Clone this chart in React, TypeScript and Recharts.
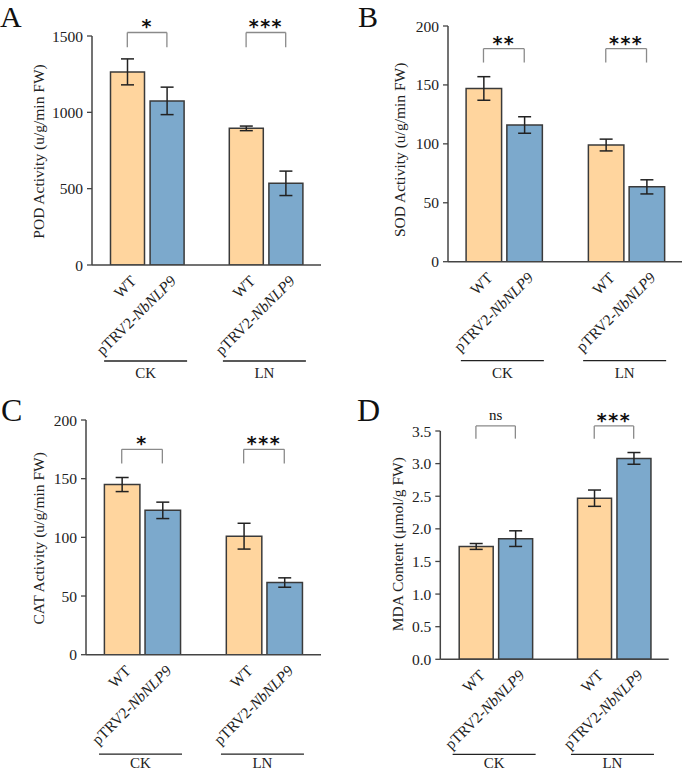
import React from 'react';
import {
  BarChart,
  Bar,
  Cell,
  XAxis,
  YAxis,
  ErrorBar,
  ReferenceLine,
} from 'recharts';

// groups and genotypes
const treatments = ['CK', 'LN'];
const genotypes = ['WT', 'pTRV2-NbNLP9'];

// values in order CK-WT, CK-pTRV2, LN-WT, LN-pTRV2
const podMean = [1265, 1075, 895, 535];
const podSd = [85, 90, 15, 80];
const podSig = ['*', '***'];

const sodMean = [147, 116, 99, 63.5];
const sodSd = [10, 7, 5, 6];
const sodSig = ['**', '***'];

const catMean = [145, 123, 101, 61.5];
const catSd = [6, 7, 11, 4];
const catSig = ['*', '***'];

const mdaMean = [1.73, 1.85, 2.47, 3.08];
const mdaSd = [0.045, 0.12, 0.125, 0.09];
const mdaSig = ['ns', '***'];

const podTicks = [0, 500, 1000, 1500];
const sodTicks = [0, 50, 100, 150, 200];
const catTicks = [0, 50, 100, 150, 200];
const mdaTicks = [0, 0.5, 1, 1.5, 2, 2.5, 3, 3.5];

const FONT = '"Liberation Serif", "Times New Roman", serif';
const WT_COLOR = '#FFD59E';
const KD_COLOR = '#7CA9CC';
const EDGE = '#3a3a3a';
const AXIS = '#444';

type Row = {
  key: string;
  treatment?: string;
  genotype?: string;
  gi?: number;
  value: number | null;
  err?: number;
};

// builds the table with a spacer row between the two groups
const buildRows = (mean: number[], sd: number[]): Row[] => {
  const rows: Row[] = [];
  treatments.forEach((t, ti) => {
    if (ti > 0) rows.push({ key: 'gap' + ti, value: null });
    genotypes.forEach((g, gi) => {
      rows.push({
        key: `${t}|${g}`,
        treatment: t,
        genotype: g,
        gi,
        value: mean[ti * 2 + gi],
        err: sd[ti * 2 + gi],
      });
    });
  });
  return rows;
};

const GenotypeTick = ({ x, y, payload, band, rows, lineDy, textDy }: any) => {
  const row = rows.find((r: Row) => r.key === payload.value);
  if (!row || !row.genotype) return null;
  const mid = x + band / 2;
  return (
    <g>
      <text
        transform={`translate(${x + 10},${y + 17}) rotate(-45)`}
        textAnchor="end"
        fontSize={15.5}
        fontFamily={FONT}
        fill="#222"
      >
        {row.genotype === 'WT' ? (
          'WT'
        ) : (
          <>
            <tspan>pTRV2-</tspan>
            <tspan fontStyle="italic">NbNLP9</tspan>
          </>
        )}
      </text>
      {row.gi === 0 && (
        <g>
          <line x1={mid - 43} x2={mid + 40} y1={y + lineDy} y2={y + lineDy} stroke="#222" strokeWidth={1.3} />
          <text x={mid - 1.5} y={y + textDy} textAnchor="middle" fontSize={15} fontFamily={FONT} fill="#222">
            {row.treatment}
          </text>
        </g>
      )}
    </g>
  );
};

const SigLabel = ({ viewBox, text }: any) => {
  if (!viewBox) return null;
  const cx = viewBox.x + viewBox.width / 2;
  const isNs = text === 'ns';
  return (
    <text
      x={cx}
      y={viewBox.y + (isNs ? -6 : 1)}
      textAnchor="middle"
      fontSize={isNs ? 15 : 19}
      fontWeight={isNs ? 'normal' : 'bold'}
      letterSpacing={isNs ? 0 : 1.5}
      fontFamily={isNs ? FONT : '"DejaVu Sans", sans-serif'}
      fill="#111"
    >
      {text}
    </text>
  );
};

interface PanelProps {
  left: number;
  top: number;
  margin: { top: number; right: number; left: number; bottom: number };
  yWidth: number;
  xHeight: number;
  pad: [number, number];
  mean: number[];
  sd: number[];
  sig: string[];
  domain: [number, number];
  ticks: number[];
  yLabel: string;
  labelDx: number;
  labelDy: number;
  barSize: number;
  sigTop: number;
  sigLeg: number;
  lineDy: number;
  textDy: number;
  decimals?: number;
}

const Panel: React.FC<PanelProps> = (p) => {
  const rows = buildRows(p.mean, p.sd);
  const W = 342;
  const H = 386;
  const plotW = W - p.margin.left - p.yWidth - p.margin.right;
  const band = (plotW - p.pad[0] - p.pad[1]) / rows.length;

  const YLabel = ({ viewBox }: any) => {
    const cx = viewBox.x + viewBox.width + p.labelDx;
    const cy = viewBox.y + viewBox.height / 2 + p.labelDy;
    return (
      <text
        transform={`translate(${cx},${cy}) rotate(-90)`}
        textAnchor="middle"
        dominantBaseline="central"
        fontSize={15.5}
        fontFamily={FONT}
        fill="#222"
      >
        {p.yLabel}
      </text>
    );
  };

  return (
    <div style={{ position: 'absolute', left: p.left, top: p.top }}>
      <BarChart width={W} height={H} data={rows} margin={p.margin}>
        <XAxis
          dataKey="key"
          type="category"
          height={p.xHeight}
          padding={{ left: p.pad[0], right: p.pad[1] }}
          interval={0}
          tickLine={false}
          tickSize={0}
          tickMargin={0}
          axisLine={{ stroke: AXIS, strokeWidth: 1.5 }}
          tick={(props: any) => (
            <GenotypeTick {...props} band={band} rows={rows} lineDy={p.lineDy} textDy={p.textDy} />
          )}
        />
        <YAxis
          width={p.yWidth}
          domain={p.domain}
          ticks={p.ticks}
          interval={0}
          allowDataOverflow
          tickSize={5}
          tickMargin={4}
          tickLine={{ stroke: AXIS, strokeWidth: 1.3 }}
          axisLine={{ stroke: AXIS, strokeWidth: 1.5 }}
          tick={{ fill: '#222', fontSize: 15.5, fontFamily: FONT }}
          tickFormatter={(v: number) => (p.decimals ? v.toFixed(p.decimals) : String(v))}
          label={{ content: <YLabel /> }}
        />
        <Bar dataKey="value" barSize={p.barSize} stroke={EDGE} strokeWidth={1.5} isAnimationActive={false}>
          {rows.map((r) => (
            <Cell key={r.key} fill={r.gi === 0 ? WT_COLOR : KD_COLOR} />
          ))}
          <ErrorBar dataKey="err" width={6.5} stroke="#222" strokeWidth={1.5} direction="y" />
        </Bar>
        {treatments.map((t, ti) => {
          const a = `${t}|${genotypes[0]}`;
          const b = `${t}|${genotypes[1]}`;
          return (
            <React.Fragment key={t}>
              <ReferenceLine
                segment={[{ x: a, y: p.sigTop }, { x: b, y: p.sigTop }]}
                stroke="#8a8a8a"
                strokeWidth={1.3}
                ifOverflow="visible"
                label={(lp: any) => <SigLabel {...lp} text={p.sig[ti]} />}
              />
              <ReferenceLine
                segment={[{ x: a, y: p.sigTop }, { x: a, y: p.sigLeg }]}
                stroke="#8a8a8a"
                strokeWidth={1.3}
                ifOverflow="visible"
              />
              <ReferenceLine
                segment={[{ x: b, y: p.sigTop }, { x: b, y: p.sigLeg }]}
                stroke="#8a8a8a"
                strokeWidth={1.3}
                ifOverflow="visible"
              />
            </React.Fragment>
          );
        })}
      </BarChart>
    </div>
  );
};

const letters = [
  { t: 'A', x: 0, y: 27, s: 30 },
  { t: 'B', x: 358, y: 27, s: 30 },
  { t: 'C', x: 1, y: 421, s: 32 },
  { t: 'D', x: 357, y: 421, s: 32 },
];

export default function App() {
  return (
    <div style={{ position: 'absolute', left: 0, top: 0, width: 684, height: 772, background: '#fff' }}>
      <Panel
        left={0}
        top={0}
        margin={{ top: 36, right: 21, left: 0, bottom: 0 }}
        yWidth={92}
        xHeight={121}
        pad={[15.5, 15.5]}
        mean={podMean}
        sd={podSd}
        sig={podSig}
        domain={[0, 1500]}
        ticks={podTicks}
        yLabel="POD Activity (u/g/min FW)"
        labelDx={-54}
        labelDy={1}
        barSize={34}
        sigTop={1523}
        sigLeg={1427}
        lineDy={96}
        textDy={113}
      />
      <Panel
        left={342}
        top={0}
        margin={{ top: 26, right: 2, left: 0, bottom: 0 }}
        yWidth={106}
        xHeight={124.3}
        pad={[15.1, 15.1]}
        mean={sodMean}
        sd={sodSd}
        sig={sodSig}
        domain={[0, 200]}
        ticks={sodTicks}
        yLabel="SOD Activity (u/g/min FW)"
        labelDx={-49}
        labelDy={6}
        barSize={35.5}
        sigTop={180.8}
        sigLeg={169}
        lineDy={99}
        textDy={116}
      />
      <Panel
        left={0}
        top={386}
        margin={{ top: 34, right: 21, left: 0, bottom: 0 }}
        yWidth={86}
        xHeight={117.3}
        pad={[15.4, 16.4]}
        mean={catMean}
        sd={catSd}
        sig={catSig}
        domain={[0, 200]}
        ticks={catTicks}
        yLabel="CAT Activity (u/g/min FW)"
        labelDx={-48}
        labelDy={1}
        barSize={35.5}
        sigTop={175}
        sigLeg={163}
        lineDy={99.5}
        textDy={113.5}
      />
      <Panel
        left={342}
        top={386}
        margin={{ top: 45, right: 15.3, left: 0, bottom: 0 }}
        yWidth={98.3}
        xHeight={112.7}
        pad={[15.9, 15.3]}
        mean={mdaMean}
        sd={mdaSd}
        sig={mdaSig}
        domain={[0, 3.5]}
        ticks={mdaTicks}
        yLabel="MDA Content (μmol/g FW)"
        labelDx={-43}
        labelDy={-1}
        barSize={34}
        sigTop={3.578}
        sigLeg={3.383}
        lineDy={95}
        textDy={109}
        decimals={1}
      />
      <svg width={684} height={772} style={{ position: 'absolute', left: 0, top: 0, pointerEvents: 'none' }}>
        {letters.map((l) => (
          <text key={l.t} x={l.x} y={l.y} fontSize={l.s} fontFamily={FONT} fill="#111">
            {l.t}
          </text>
        ))}
      </svg>
    </div>
  );
}
